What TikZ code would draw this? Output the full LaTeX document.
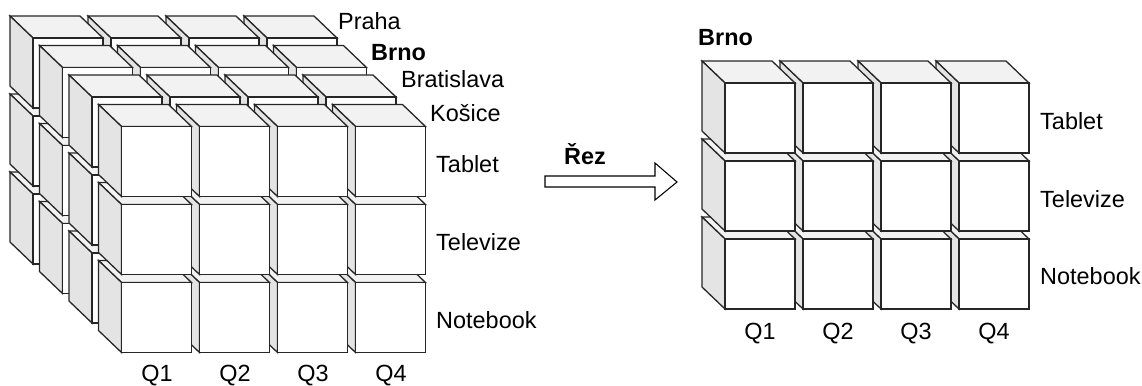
\documentclass[tikz,border=0pt]{standalone}
\usepackage{fontspec}
\setmainfont{Liberation Sans}

\definecolor{topgray}{HTML}{F2F2F2}
\definecolor{sidegray}{HTML}{E4E4E4}

% one cube, #1,#2 = top left corner of its front face
\newcommand{\drawcube}[2]{%
\draw [cubeline, fill=topgray] (#1,#2) -- ++(-23,-22) -- ++(70,0) -- ++(23,22) -- cycle;
\draw [cubeline, fill=sidegray] (#1,#2) -- ++(-23,-22) -- ++(0,70) -- ++(23,22) -- cycle;
\draw [cubeline, fill=white] (#1,#2) rectangle ++(70,70);
}

\begin{document}
\begin{tikzpicture}[x=0.03cm, y=-0.03cm,
  font=\fontsize{20}{24}\selectfont,
  cubeline/.style={line width=1.1pt, draw=black!85},
  rowlabel/.style={anchor=base west, inner sep=0pt},
  collabel/.style={anchor=base, inner sep=0pt}]

\useasboundingbox (0,0) rectangle (1142,385);

% full cube: four layers, back to front
\foreach \k in {0,...,3}
  \foreach \r in {2,1,0}
    \foreach \c in {3,2,1,0}
      {\drawcube{33+29.5*\k+78*\c}{38+29.5*\k+78*\r}}

\node [rowlabel] (praha) at (338, 29) {Praha};
\node [rowlabel, font=\fontsize{20}{24}\selectfont\bfseries] (brno) at (371, 60) {Brno};
\node [rowlabel] (bratislava) at (401, 87) {Bratislava};
\node [rowlabel] (kosice) at (430, 121) {Košice};

\node [rowlabel] (ltablet) at (436, 172) {Tablet};
\node [rowlabel] (ltelevize) at (436, 250) {Televize};
\node [rowlabel] (lnotebook) at (436, 328) {Notebook};

\node [collabel] (lq1) at (157, 381) {Q1};
\node [collabel] (lq2) at (235, 381) {Q2};
\node [collabel] (lq3) at (313, 381) {Q3};
\node [collabel] (lq4) at (391, 381) {Q4};

% slice arrow
\draw [line width=0.9pt, fill=white] (545,176) -- (655,176) -- (655,163) -- (677,182) -- (655,200) -- (655,187) -- (545,187) -- cycle;
\node [collabel, font=\fontsize{20}{24}\selectfont\bfseries] (rez) at (585, 164) {Řez};

% slice Brno
\foreach \r in {2,1,0}
  \foreach \c in {3,2,1,0}
    {\drawcube{725+78*\c}{83+78*\r}}

\node [rowlabel, font=\fontsize{20}{24}\selectfont\bfseries] (rbrno) at (698, 45) {Brno};

\node [rowlabel] (rtablet) at (1040, 129) {Tablet};
\node [rowlabel] (rtelevize) at (1040, 207) {Televize};
\node [rowlabel] (rnotebook) at (1040, 284) {Notebook};

\node [collabel] (rq1) at (760, 339) {Q1};
\node [collabel] (rq2) at (838, 339) {Q2};
\node [collabel] (rq3) at (916, 339) {Q3};
\node [collabel] (rq4) at (994, 339) {Q4};

\end{tikzpicture}
\end{document}
